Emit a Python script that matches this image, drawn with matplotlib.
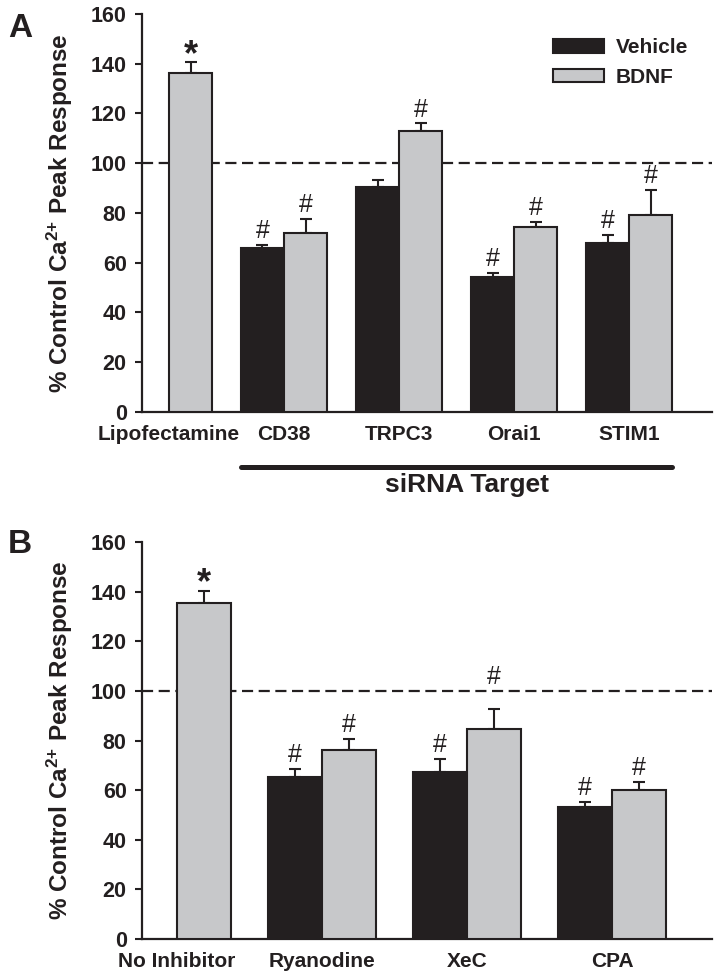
import numpy as np
import matplotlib
matplotlib.use('Agg')
import matplotlib.pyplot as plt
import matplotlib.transforms as mtransforms

plt.rcParams['font.family'] = ['Liberation Sans', 'DejaVu Sans']
plt.rcParams['font.weight'] = 'bold'
plt.rcParams['mathtext.fontset'] = 'custom'
plt.rcParams['mathtext.rm'] = 'Liberation Sans:bold'
plt.rcParams['mathtext.it'] = 'Liberation Sans:bold'
plt.rcParams['mathtext.bf'] = 'Liberation Sans:bold'

# panel A: siRNA knockdown
a_cats = ['Lipofectamine', 'CD38', 'TRPC3', 'Orai1', 'STIM1']
a_vehicle = [np.nan, 65.9, 90.4, 54.3, 67.8]
a_vehicle_err = [np.nan, 1.2, 2.8, 1.6, 3.3]
a_bdnf = [136.1, 72.0, 112.9, 74.4, 79.2]
a_bdnf_err = [4.5, 5.5, 3.1, 2.0, 10.0]
a_vehicle_marks = ['', '#', '', '#', '#']
a_bdnf_marks = ['*', '#', '#', '#', '#']

# panel B: inhibitors
b_cats = ['No Inhibitor', 'Ryanodine', 'XeC', 'CPA']
b_vehicle = [np.nan, 65.3, 67.3, 53.2]
b_vehicle_err = [np.nan, 3.2, 5.3, 2.0]
b_bdnf = [135.5, 76.2, 84.7, 60.1]
b_bdnf_err = [4.8, 4.4, 8.0, 3.2]
b_vehicle_marks = ['', '#', '#', '#']
b_bdnf_marks = ['*', '#', '#', '#']

series_names = ['Vehicle', 'BDNF']
dark = '#231f20'
grey = '#c7c8ca'
width = 0.375


def put_mark(ax, x, top, mark):
    if not mark:
        return
    if 90 < top < 100:
        top = 100  # mark sits above the reference line
    if mark == '*':
        ax.annotate(mark, (x, top), xytext=(0, -2), textcoords='offset points',
                    ha='center', va='baseline', fontsize=26, fontweight='bold',
                    color=dark)
    else:
        ax.annotate(mark, (x, top), xytext=(0, 5), textcoords='offset points',
                    ha='center', va='baseline', fontsize=18, fontweight='normal',
                    color=dark)


def draw_panel(ax, cats, veh, veh_err, bdnf, bdnf_err, veh_marks, bdnf_marks):
    x = np.arange(len(cats))
    ax.axhline(100, color=dark, lw=1.6, ls=(0, (5, 2.5)), zorder=1)
    b1 = ax.bar(x - width / 2, veh, width, color=dark, edgecolor=dark,
                lw=1.5, zorder=3, label=series_names[0])
    b2 = ax.bar(x + width / 2, bdnf, width, color=grey, edgecolor=dark,
                lw=1.5, zorder=3, label=series_names[1])
    for xs, vals, errs in [(x - width / 2, veh, veh_err), (x + width / 2, bdnf, bdnf_err)]:
        vals = np.array(vals)
        errs = np.array(errs)
        ax.errorbar(xs, vals, yerr=[np.zeros_like(errs), errs], fmt='none',
                    ecolor=dark, elinewidth=1.5, capsize=4, capthick=1.5, zorder=2)
    for i in range(len(cats)):
        if not np.isnan(veh[i]):
            put_mark(ax, x[i] - width / 2, veh[i] + veh_err[i], veh_marks[i])
        put_mark(ax, x[i] + width / 2, bdnf[i] + bdnf_err[i], bdnf_marks[i])

    ax.set_ylim(0, 160)
    ax.set_yticks(np.arange(0, 161, 20))
    ax.set_xticks(x)
    ax.set_xticklabels(cats, fontsize=15, fontweight='bold', color=dark)
    ax.tick_params(axis='x', length=0, pad=9)
    ax.tick_params(axis='y', direction='out', length=5, width=1.5, pad=6,
                   labelsize=15.5, labelcolor=dark, color=dark)
    for s in ['top', 'right']:
        ax.spines[s].set_visible(False)
    for s in ['left', 'bottom']:
        ax.spines[s].set_linewidth(1.6)
        ax.spines[s].set_color(dark)
    return b1, b2


fig = plt.figure(figsize=(7.17, 9.8), dpi=100)
W, H = 717, 980

ax_a = fig.add_axes([142 / W, 1 - 412 / H, 570 / W, 398 / H])
bars = draw_panel(ax_a, a_cats, a_vehicle, a_vehicle_err, a_bdnf, a_bdnf_err,
                  a_vehicle_marks, a_bdnf_marks)
ax_a.set_xlim(-0.235, 4.72)

# siRNA bracket under the knockdown groups
trans = mtransforms.blended_transform_factory(ax_a.transData, ax_a.transAxes)
x0 = 1 - width
x1 = len(a_cats) - 1 + width
ax_a.plot([x0, x1], [-0.138, -0.138], color=dark, lw=3.6, solid_capstyle='round',
          transform=trans, clip_on=False)
ax_a.text((x0 + x1) / 2 + 0.09, -0.183, 'siRNA Target', transform=trans,
          ha='center', va='center', fontsize=19, fontweight='bold', color=dark)

ax_a.legend(loc='upper left', bbox_to_anchor=(0.703, 0.965), frameon=False,
            borderpad=0, handlelength=2.45, handleheight=0.63, handletextpad=0.55,
            labelspacing=0.5, prop={'size': 15, 'weight': 'bold'}, labelcolor=dark)

ax_b = fig.add_axes([142 / W, 1 - 939 / H, 570 / W, 397 / H])
draw_panel(ax_b, b_cats, b_vehicle, b_vehicle_err, b_bdnf, b_bdnf_err,
           b_vehicle_marks, b_bdnf_marks)
ax_b.set_xlim(-0.241, 3.69)

ylab = '% Control Ca$^{2{+}}$ Peak Response'
fig.text(60 / W, 1 - 213 / H, ylab, rotation=90, ha='center', va='center',
         fontsize=17.5, fontweight='bold', color=dark)
fig.text(60 / W, 1 - 740 / H, ylab, rotation=90, ha='center', va='center',
         fontsize=17.5, fontweight='bold', color=dark)

fig.text(20 / W, 1 - 28.5 / H, 'A', ha='center', va='center', fontsize=24,
         fontweight='bold', color=dark)
fig.text(20 / W, 1 - 544.5 / H, 'B', ha='center', va='center', fontsize=24,
         fontweight='bold', color=dark)

fig.savefig('out.png', dpi=100)
